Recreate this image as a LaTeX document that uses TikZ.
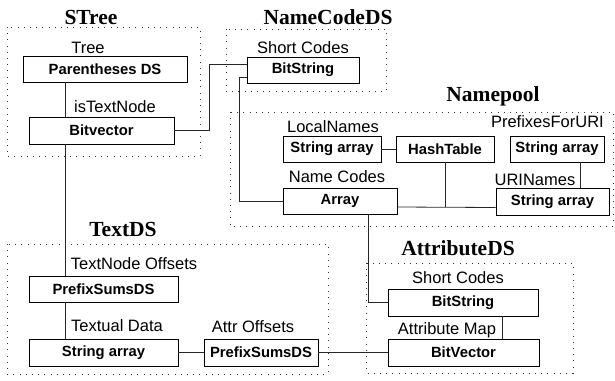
\documentclass[tikz,border=0pt]{standalone}
\usepackage{fontspec}
\setmainfont{Liberation Sans}
\newfontfamily\headfont{Liberation Serif}
\usepackage{tikz}

\begin{document}
\begin{tikzpicture}[x=1pt, y=-1pt,
  box/.style={draw, line width=0.9pt, inner sep=0pt, minimum height=26pt,
    font=\fontsize{14.8}{16}\selectfont\bfseries},
  lbl/.style={inner sep=0pt, font=\fontsize{16.5}{18}\selectfont},
  head/.style={inner sep=0pt, font=\fontsize{21.5}{24}\headfont\bfseries},
  grp/.style={line width=0.9pt, dash pattern=on 1pt off 5.2pt, black!80},
  wire/.style={line width=0.8pt, black!85}]
\useasboundingbox (0,0) rectangle (615,380);

% group frames
\draw[grp] (7,27) rectangle (200,156);
\draw[grp] (226,29) rectangle (386,91);
\draw[grp] (230,112) rectangle (613,226);
\draw[grp] (7,244) rectangle (328,374);
\draw[grp] (366,263) rectangle (573,373);

\node[head] (stree) at (91,17) {STree};
\node[head] (ncds) at (328,17) {NameCodeDS};
\node[head] (npool) at (493,96) {Namepool};
\node[head] (tds) at (123,229) {TextDS};
\node[head] (ads) at (458,248) {AttributeDS};

% STree
\node[lbl] (l1) at (88,48) {Tree};
\node[box, minimum width=164pt] (pds) at (105,69) {Parentheses DS};
\node[lbl] (l2) at (115,107) {isTextNode};
\node[box, minimum width=145pt, minimum height=27pt] (bv) at (101.5,130.5) {Bitvector};

% NameCodeDS
\node[lbl] (l3) at (303,48) {Short Codes};
\node[box, minimum width=112pt] (ncbs) at (303,70) {BitString};

% Namepool
\node[lbl] (l4) at (333,127) {LocalNames};
\node[box, minimum width=98pt] (lns) at (332,149) {String array};
\node[box, minimum width=98pt] (ht) at (445,149) {HashTable};
\node[lbl, anchor=east] (l5) at (604,122) {PrefixesForURI};
\node[box, minimum width=94pt] (pfx) at (557,149) {String array};
\node[lbl] (l6) at (337,177) {Name Codes};
\node[box, minimum width=114pt] (arr) at (340,201) {Array};
\node[lbl] (l7) at (535,180) {URINames};
\node[box, minimum width=113pt, minimum height=27pt] (uri) at (552.5,201.5) {String array};

% TextDS
\node[lbl] (l8) at (134,264) {TextNode Offsets};
\node[box, minimum width=149pt] (tps) at (103.5,289) {PrefixSumsDS};
\node[lbl] (l9) at (117,326) {Textual Data};
\node[box, minimum width=149pt, minimum height=27pt] (tsa) at (103.5,352.5) {String array};
\node[lbl] (l10) at (253,327) {Attr Offsets};
\node[box, minimum width=114pt, minimum height=27pt] (aps) at (261,352.5) {PrefixSumsDS};

% AttributeDS
\node[lbl] (l11) at (458,278) {Short Codes};
\node[box, minimum width=150pt, minimum height=27pt] (abs) at (463,302.5) {BitString};
\node[lbl] (l12) at (447,330) {Attribute Map};
\node[box, minimum width=151pt, minimum height=27pt] (abv) at (463.5,352.5) {BitVector};

% connections
\coordinate (spine) at (65,0);
\draw[wire] (pds.south -| spine) -- (bv.north -| spine);
\draw[wire] (bv.south -| spine) -- (tps.north -| spine);
\draw[wire] (tps.south -| spine) -- (tsa.north -| spine);
\draw[wire] (bv.east) -- ++(35,0) |- ([yshift=6pt]ncbs.west);
\draw[wire] ([yshift=-7pt]ncbs.west) -- ++(-7,0) |- (arr.west);
\draw[wire] (lns.east) -- (ht.west);
\draw[wire] ([yshift=-6pt]arr.east) -- ([yshift=-6pt]uri.west);
\draw[wire] (ht.south) -- ++(0,45);
\draw[wire] ([xshift=23pt]pfx.south) -- ([xshift=23pt]pfx.south |- uri.north);
\draw[wire] ([xshift=28pt]arr.south) |- (abs.west);
\draw[wire] ([xshift=39pt]abs.south) -- ([xshift=39pt]abs.south |- abv.north);
\draw[wire] (tsa.east) -- (aps.west);
\draw[wire] (aps.east) -- (abv.west);
\end{tikzpicture}
\end{document}
